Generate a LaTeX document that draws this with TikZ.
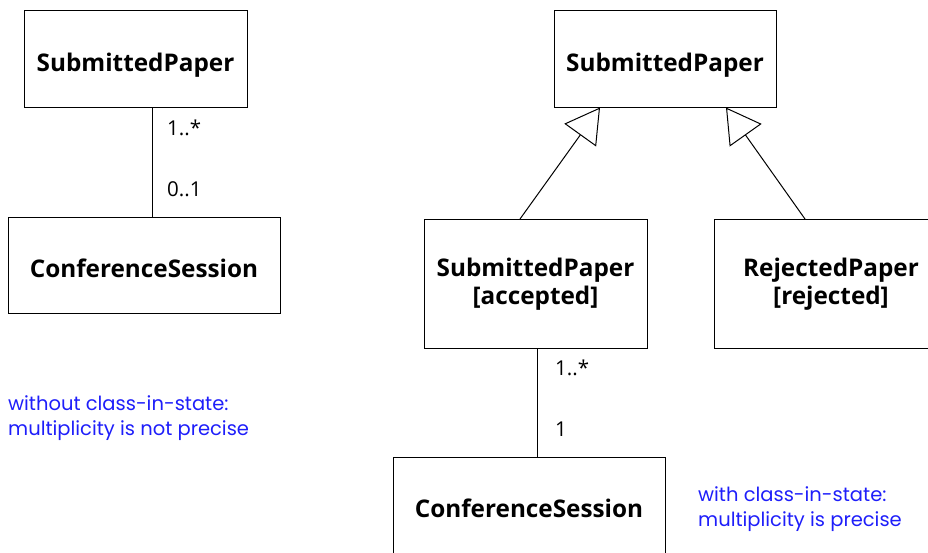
\documentclass[tikz,border=0pt]{standalone}
\usepackage{fontspec}
\setmainfont{Open Sans}
\newfontfamily\notefont{Poppins}
\usepackage{tikz}
\usetikzlibrary{arrows.meta,calc}
\definecolor{noteblue}{RGB}{30,30,250}
\tikzset{
  classbox/.style = {draw,line width=1pt,align=center,font=\fontsize{24.3}{28}\selectfont\bfseries},
  oneline/.style  = {text height=25pt,text depth=0pt},
  assocline/.style = {line width=1pt},
  genarr/.style   = {-{Triangle[open,length=34pt,width=39pt]},line width=1pt},
  multlabel/.style = {anchor=west,font=\fontsize{20.5}{22}\selectfont},
  note/.style     = {anchor=north west,align=left,text=noteblue,inner sep=0pt,
                     font=\notefont\fontsize{19.5}{25.5}\selectfont}
}

\begin{document}
\begin{tikzpicture}[x=1pt,y=-1pt]
  \clip (0,0) rectangle (928,552);
  % without class-in-state
  \node[classbox,oneline,minimum width=223,minimum height=97] (spA) at (135.5,58.5) {SubmittedPaper};
  \node[classbox,oneline,minimum width=272,minimum height=96] (csA) at (144,265) {ConferenceSession};
  \coordinate (axA) at (152,0);
  \draw[assocline] (spA.south -| axA) -- (csA.north -| axA);
  \node[multlabel] (mAtop) at (163.7,127.5) {1..*};
  \node[multlabel] (mAbot) at (163.7,189.5) {0..1};
  \node[note] (noteA) at (8,395) {without class-in-state:\\multiplicity is not precise};
  % with class-in-state
  \node[classbox,oneline,minimum width=222,minimum height=97] (spB) at (665,58.5) {SubmittedPaper};
  \node[classbox,minimum width=223,minimum height=129] (acc) at (535.5,284) {SubmittedPaper\\{[accepted]}};
  \node[classbox,minimum width=234,minimum height=129] (rej) at (831,284) {RejectedPaper\\{[rejected]}};
  % box runs off the bottom edge
  \node[classbox,text height=14pt,text depth=14pt,minimum width=272,minimum height=120] (csB) at (529,517) {ConferenceSession};
  \draw[genarr] ($(acc.north)+(-15.5,0)$) -- ($(spB.south)+(-65,0)$);
  \draw[genarr] ($(rej.north)+(-26,0)$) -- ($(spB.south)+(61,0)$);
  \coordinate (axB) at (537,0);
  \draw[assocline] (acc.south -| axB) -- (csB.north -| axB);
  \node[multlabel] (mBtop) at (551.7,367.5) {1..*};
  \node[multlabel] (mBbot) at (551.7,429.5) {1};
  \node[note] (noteB) at (698,486) {with class-in-state:\\multiplicity is precise};
\end{tikzpicture}
\end{document}
